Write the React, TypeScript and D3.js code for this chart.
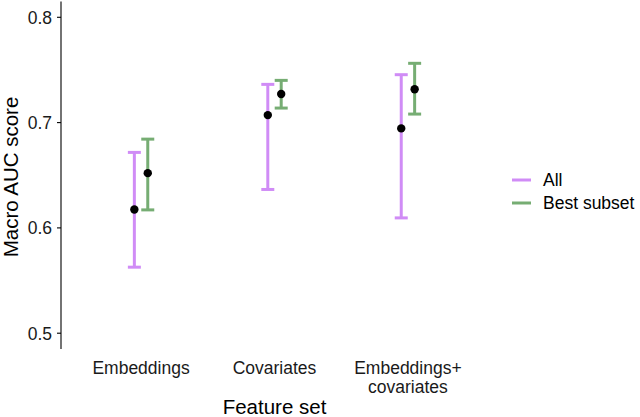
import React from "react";
import * as d3 from "d3";

const categories = ["Embeddings", "Covariates", "Embeddings+\ncovariates"];
const seriesNames = ["All", "Best subset"];
const allMean = [0.6175, 0.7071, 0.6945];
const allLow = [0.5627, 0.6365, 0.6095];
const allHigh = [0.6717, 0.7363, 0.7455];
const bestMean = [0.652, 0.7271, 0.7316];
const bestLow = [0.6171, 0.7138, 0.7081];
const bestHigh = [0.6843, 0.7401, 0.7563];
const yTicks = [0.5, 0.6, 0.7, 0.8];
const colors = ["#D08CF6", "#76AD73"];

const W = 640;
const H = 417;
const left = 61;
const right = 488;
const top = 1.5;
const bottom = 349;

export default function App() {
  const x = d3.scaleLinear().domain([0.4, 3.6]).range([left, right]);
  const y = d3.scaleLinear().domain([0.485, 0.815]).range([bottom, top]);
  const dodge = 6.7;
  const capW = 6.5;
  const series = [
    { mean: allMean, low: allLow, high: allHigh, off: -dodge, color: colors[0] },
    { mean: bestMean, low: bestLow, high: bestHigh, off: dodge, color: colors[1] },
  ];
  const font = "'Liberation Sans', Arial, sans-serif";
  return (
    <svg width={W} height={H} style={{ position: "absolute", left: 0, top: 0 }} fontFamily={font}>
      <rect width={W} height={H} fill="white" />
      <line x1={left} x2={left} y1={top} y2={bottom} stroke="black" strokeWidth={1.1} />
      {yTicks.map((t) => (
        <g key={t}>
          <line x1={left - 4} x2={left} y1={y(t)} y2={y(t)} stroke="black" strokeWidth={1.1} />
          <text x={left - 9} y={y(t)} dy="0.36em" textAnchor="end" fontSize={17.5} fill="#1a1a1a">
            {t.toFixed(1)}
          </text>
        </g>
      ))}
      {series.map((s, si) =>
        categories.map((c, i) => {
          const cx = x(i + 1) + s.off;
          return (
            <g key={si + "-" + i} stroke={s.color} strokeWidth={3}>
              <line x1={cx} x2={cx} y1={y(s.low[i])} y2={y(s.high[i])} />
              <line x1={cx - capW} x2={cx + capW} y1={y(s.low[i])} y2={y(s.low[i])} />
              <line x1={cx - capW} x2={cx + capW} y1={y(s.high[i])} y2={y(s.high[i])} />
            </g>
          );
        })
      )}
      {series.map((s, si) =>
        categories.map((c, i) => (
          <circle key={"p" + si + i} cx={x(i + 1) + s.off} cy={y(s.mean[i])} r={4.2} fill="black" />
        ))
      )}
      {categories.map((c, i) => {
        const lines = c.split("\n");
        return (
          <text key={c} x={x(i + 1)} y={374} textAnchor="middle" fontSize={17.5} fill="#1a1a1a">
            {lines.map((l, j) => (
              <tspan key={j} x={x(i + 1)} dy={j === 0 ? 0 : 18.5}>
                {l}
              </tspan>
            ))}
          </text>
        );
      })}
      <text x={x(2)} y={413.5} textAnchor="middle" fontSize={20.5} fill="black">
        Feature set
      </text>
      <text
        transform={`translate(17.5,177) rotate(-90)`}
        textAnchor="middle"
        fontSize={20.5}
        fill="black"
      >
        Macro AUC score
      </text>
      {seriesNames.map((n, i) => (
        <g key={n}>
          <line x1={512} x2={531} y1={180 + i * 23} y2={180 + i * 23} stroke={colors[i]} strokeWidth={3} />
          <text x={543} y={180 + i * 23} dy="0.36em" fontSize={17.5} fill="black">
            {n}
          </text>
        </g>
      ))}
    </svg>
  );
}
